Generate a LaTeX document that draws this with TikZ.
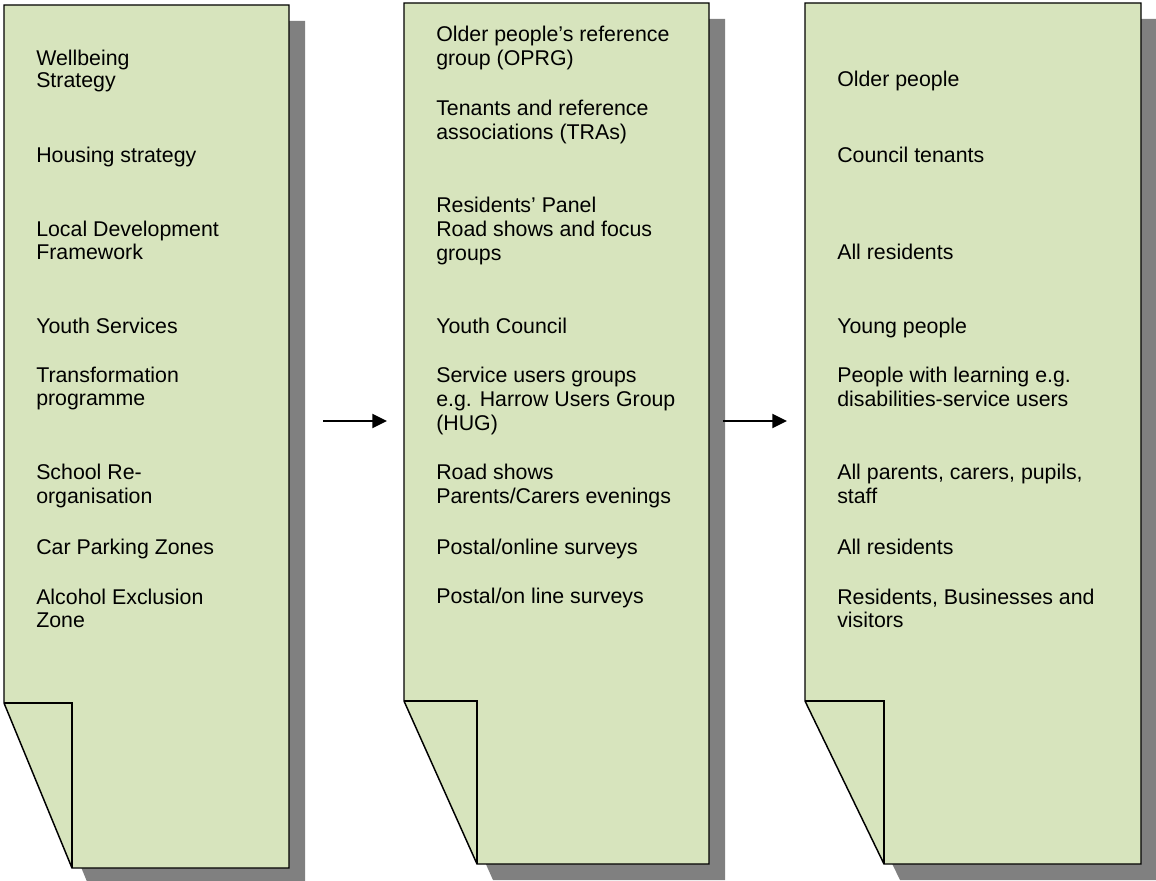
\documentclass[tikz,border=0pt]{standalone}
\usepackage{fontspec}
\setmainfont{Liberation Sans}
\usetikzlibrary{arrows.meta}
\definecolor{pagegreen}{HTML}{D7E4BD}
\definecolor{shadowgray}{HTML}{808080}
\newcommand\drawfoldpage[6]{%
  \fill[shadowgray] ({#1+16},{#2+16}) -- ({#3+16},{#2+16}) -- ({#3+16},{#4+16}) -- ({#5+16},{#4+16}) -- ({#1+16},{#6+16}) -- cycle;
  \filldraw[fill=pagegreen,pageedge] (#1,#2) -- (#3,#2) -- (#3,#4) -- (#5,#4) -- (#1,#6) -- cycle;
  \draw[pageedge] (#1,#6) -- (#5,#6) -- (#5,#4);
}
\begin{document}
\begin{tikzpicture}[x=0.75pt,y=-0.75pt,
  txt/.style={anchor=base west,inner sep=0pt,font=\fontsize{16}{18}\selectfont},
  pageedge/.style={draw=black,line width=1.1pt,line join=miter},
  flow/.style={line width=1.4pt,-{Triangle[length=11pt,width=10.5pt]}}]
\useasboundingbox (0,0) rectangle (1156,881);
\clip (0,0) rectangle (1156,881);
\fill[white] (0,0) rectangle (1156,881);
% pages
\drawfoldpage{4}{5}{289}{868}{72}{703}
\drawfoldpage{404}{3}{709}{864}{477}{701}
\drawfoldpage{805}{3}{1141}{864}{884}{701}
% left page text
\foreach \yy/\txtline [count=\i] in {65/Wellbeing, 88/Strategy, 162/Housing strategy,
  236/Local Development, 259/Framework, 333/Youth Services, 382/Transformation,
  405/programme, 479/School Re-, 503/organisation, 554/Car Parking Zones,
  604/Alcohol Exclusion, 627/Zone}
  \node[txt] (lt\i) at (36,\yy) {\txtline};
% middle page text
\foreach \yy/\txtline [count=\i] in {42/Older people’s reference, 65/group (OPRG),
  115/Tenants and reference, 139/associations (TRAs), 212/Residents’ Panel,
  236/Road shows and focus, 260/groups, 333/Youth Council, 382/Service users groups,
  406/e.g. Harrow Users Group, 430/(HUG), 479/Road shows, 503/{Parents/Carers evenings},
  554/{Postal/online surveys}, 603/{Postal/on line surveys}}
  \node[txt] (mt\i) at (436,\yy) {\txtline};
% right page text
\foreach \yy/\txtline [count=\i] in {87/Older people, 162/Council tenants, 259/All residents,
  333/Young people, 382/People with learning e.g., 406/disabilities-service users,
  479/{All parents, carers, pupils,}, 503/staff, 554/All residents,
  604/{Residents, Businesses and}, 627/visitors}
  \node[txt] (rt\i) at (837,\yy) {\txtline};
% arrows
\coordinate (a1s) at (323,421);
\coordinate (a1e) at (387,421);
\coordinate (a2s) at (723,421);
\coordinate (a2e) at (787,421);
\draw[flow] (a1s) -- (a1e);
\draw[flow] (a2s) -- (a2e);
\end{tikzpicture}
\end{document}
